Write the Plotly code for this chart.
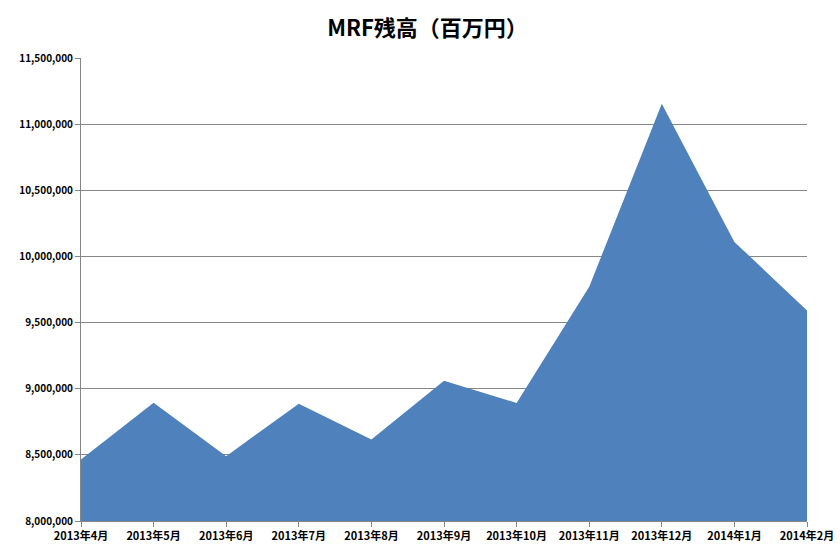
import plotly.graph_objects as go

categories = ["2013年4月", "2013年5月", "2013年6月", "2013年7月", "2013年8月", "2013年9月",
              "2013年10月", "2013年11月", "2013年12月", "2014年1月", "2014年2月"]
balance = [8464000, 8894000, 8490000, 8887000, 8617000, 9060000,
           8892000, 9770000, 11155000, 10110000, 9592000]
y_ticks = [8000000, 8500000, 9000000, 9500000, 10000000, 10500000, 11000000, 11500000]

FONT = "Noto Sans CJK JP"
GRID = "#868686"

fig = go.Figure(go.Scatter(
    x=categories, y=balance, mode="lines", line=dict(width=0, color="#4F81BD"),
    fill="tozeroy", fillcolor="#4F81BD", hoverinfo="x+y"))

fig.update_layout(
    width=840, height=546,
    margin=dict(l=81, r=33, t=58, b=25, autoexpand=False),
    paper_bgcolor="white", plot_bgcolor="white",
    showlegend=False,
    title=dict(text="<b>MRF残高（百万円）</b>", x=0.509, xanchor="center",
               y=1 - 28 / 546, yanchor="middle",
               font=dict(family=FONT, size=22, color="#000000")),
    font=dict(family=FONT, color="#000000"),
)
fig.update_xaxes(
    type="category", range=[0, len(categories) - 1], automargin=False,
    showgrid=False, showline=True, linecolor=GRID, linewidth=1,
    ticks="outside", ticklen=5, tickcolor=GRID,
    tickfont=dict(size=11, family=FONT, color="#000000", weight="bold"), tickangle=0,
)
fig.update_yaxes(
    range=[8000000, 11500000], tickvals=y_ticks, tickformat=",d", automargin=False,
    showgrid=True, gridcolor=GRID, gridwidth=1,
    showline=True, linecolor=GRID, linewidth=1,
    ticks="outside", ticklen=5, tickcolor=GRID,
    tickfont=dict(size=10, family=FONT, color="#000000", weight="bold"),
    zeroline=False,
)

fig.write_html("out.html")
